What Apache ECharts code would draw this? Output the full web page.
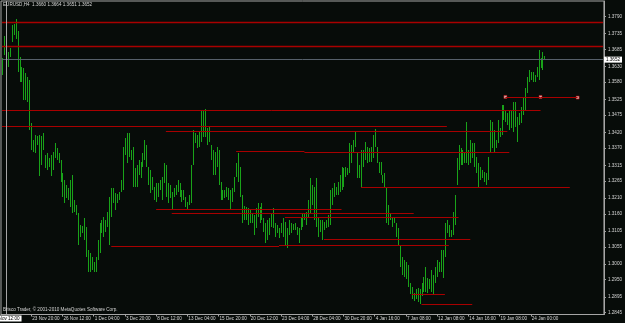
<!DOCTYPE html>
<html><head><meta charset="utf-8">
<script src="https://cdn.jsdelivr.net/npm/echarts@6/dist/echarts.min.js"></script>
<style>html,body{margin:0;padding:0;background:#070c09;overflow:hidden}#c{width:625px;height:323px}</style>
</head><body><div id="c"></div>
<script>
// ---- data ----
const symbolName = 'EURUSD,H4';
const lastBarOHLC = [1.3660, 1.3664, 1.3651, 1.3652];
const copyrightText = 'Brisco Trader, \u00a9 2001-2010 MetaQuotes Software Corp.';
const timeSlots = 309;

const barHigh = [1.3657,
1.3727,1.3714,1.3676,1.3688,1.3761,1.3765,1.3781,1.3742,1.3660,1.3628,
1.3625,1.3609,1.3596,1.3587,1.3450,1.3396,1.3412,1.3409,1.3412,1.3409,
1.3418,1.3348,1.3354,1.3339,1.3348,1.3358,1.3386,1.3370,1.3354,1.3332,
1.3291,1.3269,1.3253,1.3243,1.3269,1.3285,1.3205,1.3189,1.3164,1.3126,
1.3122,1.3148,1.3119,1.3046,1.3036,1.3021,1.3008,1.3024,1.3078,1.3132,
1.3141,1.3151,1.3141,1.3167,1.3215,1.3243,1.3243,1.3227,1.3224,1.3230,
1.3269,1.3374,1.3402,1.3418,1.3418,1.3364,1.3374,1.3307,1.3316,1.3332,
1.3326,1.3354,1.3396,1.3380,1.3310,1.3300,1.3278,1.3246,1.3259,1.3259,
1.3269,1.3278,1.3323,1.3316,1.3259,1.3253,1.3230,1.3243,1.3253,1.3269,
1.3259,1.3237,1.3237,1.3215,1.3199,1.3221,1.3316,1.3428,1.3418,1.3412,
1.3421,1.3491,1.3491,1.3494,1.3434,1.3437,1.3380,1.3364,1.3358,1.3374,
1.3364,1.3262,1.3237,1.3237,1.3246,1.3243,1.3237,1.3243,1.3278,1.3323,
1.3354,1.3310,1.3221,1.3186,1.3183,1.3180,1.3173,1.3164,1.3157,1.3180,
1.3196,1.3183,1.3196,1.3148,1.3132,1.3141,1.3148,1.3164,1.3180,1.3132,
1.3126,1.3116,1.3132,1.3148,1.3135,1.3116,1.3141,1.3132,1.3129,1.3132,
1.3119,1.3116,1.3148,1.3164,1.3164,1.3167,1.3205,1.3275,1.3253,1.3246,
1.3275,1.3148,1.3141,1.3141,1.3135,1.3141,1.3157,1.3237,1.3243,1.3259,
1.3246,1.3262,1.3285,1.3310,1.3307,1.3310,1.3307,1.3386,1.3380,1.3396,
1.3421,1.3358,1.3316,1.3364,1.3364,1.3390,1.3374,1.3370,1.3374,1.3412,
1.3431,1.3374,1.3326,1.3326,1.3285,1.3291,1.3243,1.3189,1.3164,1.3148,
1.3151,1.3132,1.3116,1.3062,1.3021,1.3014,1.3008,1.2998,1.2941,1.2928,
1.2909,1.2919,1.2925,1.2919,1.2941,1.2960,1.2989,1.2957,1.2951,1.2982,
1.2966,1.2989,1.3014,1.3008,1.3046,1.3046,1.3132,1.3141,1.3126,1.3110,
1.3167,1.3221,1.3339,1.3380,1.3370,1.3364,1.3358,1.3453,1.3364,1.3396,
1.3386,1.3386,1.3342,1.3323,1.3310,1.3300,1.3294,1.3291,1.3342,1.3459,
1.3453,1.3428,1.3396,1.3459,1.3434,1.3507,1.3507,1.3491,1.3482,1.3491,
1.3491,1.3517,1.3517,1.3469,1.3482,1.3501,1.3533,1.3561,1.3596,1.3618,
1.3612,1.3612,1.3602,1.3628,1.3682,1.3657,1.3676,1.3664];

const barLow = [1.3602,
1.3666,1.3657,1.3628,1.3660,1.3707,1.3730,1.3717,1.3612,1.3580,1.3580,
1.3523,1.3523,1.3517,1.3428,1.3364,1.3358,1.3354,1.3380,1.3281,1.3316,
1.3364,1.3307,1.3300,1.3310,1.3281,1.3300,1.3339,1.3332,1.3323,1.3262,
1.3215,1.3196,1.3211,1.3205,1.3183,1.3164,1.3167,1.3157,1.3062,1.3087,
1.3100,1.3078,1.3024,1.2976,1.2973,1.2982,1.2976,1.2973,1.3014,1.3036,
1.3100,1.3087,1.3103,1.3119,1.3062,1.3151,1.3196,1.3173,1.3196,1.3205,
1.3230,1.3237,1.3348,1.3323,1.3342,1.3332,1.3246,1.3246,1.3246,1.3285,
1.3275,1.3310,1.3332,1.3310,1.3253,1.3227,1.3237,1.3205,1.3199,1.3215,
1.3237,1.3205,1.3259,1.3215,1.3196,1.3211,1.3173,1.3215,1.3221,1.3230,
1.3215,1.3199,1.3205,1.3183,1.3173,1.3189,1.3196,1.3316,1.3386,1.3370,
1.3374,1.3390,1.3405,1.3405,1.3380,1.3390,1.3332,1.3285,1.3285,1.3310,
1.3253,1.3205,1.3205,1.3211,1.3215,1.3205,1.3173,1.3199,1.3230,1.3278,
1.3262,1.3215,1.3132,1.3141,1.3141,1.3126,1.3132,1.3132,1.3094,1.3116,
1.3151,1.3132,1.3141,1.3103,1.3068,1.3078,1.3094,1.3119,1.3116,1.3087,
1.3100,1.3084,1.3100,1.3087,1.3056,1.3052,1.3094,1.3100,1.3110,1.3110,
1.3094,1.3068,1.3110,1.3119,1.3141,1.3126,1.3151,1.3164,1.3189,1.3141,
1.3119,1.3087,1.3103,1.3078,1.3110,1.3116,1.3119,1.3126,1.3189,1.3215,
1.3221,1.3221,1.3230,1.3237,1.3246,1.3278,1.3285,1.3291,1.3323,1.3354,
1.3374,1.3275,1.3275,1.3246,1.3310,1.3332,1.3323,1.3326,1.3326,1.3339,
1.3374,1.3323,1.3291,1.3285,1.3259,1.3246,1.3132,1.3126,1.3141,1.3119,
1.3132,1.3087,1.3056,1.2989,1.2966,1.2960,1.2951,1.2928,1.2903,1.2887,
1.2881,1.2887,1.2878,1.2871,1.2897,1.2912,1.2912,1.2909,1.2919,1.2912,
1.2903,1.2941,1.2960,1.2976,1.2976,1.2957,1.3024,1.3100,1.3087,1.3087,
1.3094,1.3126,1.3253,1.3300,1.3316,1.3316,1.3323,1.3323,1.3316,1.3323,
1.3339,1.3310,1.3291,1.3243,1.3269,1.3275,1.3262,1.3253,1.3269,1.3354,
1.3370,1.3354,1.3370,1.3386,1.3405,1.3412,1.3459,1.3453,1.3443,1.3428,
1.3434,1.3421,1.3437,1.3390,1.3443,1.3450,1.3475,1.3491,1.3545,1.3580,
1.3587,1.3580,1.3580,1.3596,1.3587,1.3625,1.3618,1.3651];

const xTickSlots = [15,31,47,63,79,95,111,127,143,159,175,191,207,223,239,255,271];
const xTickLabels = ['23 Nov 20:00','26 Nov 12:00','1 Dec 04:00','3 Dec 20:00','8 Dec 12:00',
  '13 Dec 04:00','15 Dec 20:00','20 Dec 12:00','23 Dec 04:00','28 Dec 04:00','30 Dec 20:00',
  '4 Jan 16:00','7 Jan 08:00','12 Jan 08:00','14 Jan 16:00','19 Jan 08:00','24 Jan 00:00'];
const yTickValues = [1.3790,1.3735,1.3685,1.3630,1.3580,1.3525,1.3475,1.3420,1.3370,1.3315,
  1.3265,1.3210,1.3160,1.3105,1.3055,1.3000,1.2950,1.2895,1.2845];
const yMin = 1.2839, yMax = 1.3839;
const bidPrice = 1.3652;
const fullWidthLevels = [1.3771, 1.3695];
// [startSlot, endSlot, price]
const trendSegments = [
  [0,276,1.3491],[0,228,1.3440],[84,259,1.3424],[120,155,1.3360],[155,260,1.3357],
  [184,291,1.3246],[79,174,1.3176],[87,211,1.3163],[145,234,1.3150],[165,240,1.3080],
  [56,142,1.3058],[142,229,1.3061],[210,227,1.2905],[215,241,1.2873],
  [258,276,1.3533],[276,295,1.3531]];
const anchorPoints = [[258,1.3533],[276,1.3533],[295,1.3531]];
const vLineSlot = 2;
const vLineLabel = '20 Nov 12:00';

// ---- chart ----
const TXT = '#d6d6d6', FRAME = '#a6a6a6', BAR = '#19a319', RED = '#a80000';
const FONT = 'Liberation Sans';
const lastSlot = timeSlots - 1;
const cats = [];
for (let i = 0; i < timeSlots; i++) cats.push('s' + i);
const tickMap = {};
xTickSlots.forEach((s, k) => { tickMap[s] = xTickLabels[k]; });

const chart = echarts.init(document.getElementById('c'), null, {renderer: 'canvas'});

const noLabel = {show: false};
const markData = [];
fullWidthLevels.forEach(p => markData.push([
  {coord: [0, p], lineStyle: {color: RED, width: 1.3, type: 'solid'}, label: noLabel},
  {coord: [lastSlot, p]}]));
trendSegments.forEach(s => markData.push([
  {coord: [s[0], s[2]], lineStyle: {color: RED, width: 1, type: 'solid'}, label: noLabel},
  {coord: [s[1], s[2]]}]));
markData.push([
  {coord: [0, bidPrice], lineStyle: {color: '#56606a', width: 1, type: 'solid'},
    label: {show: true, position: 'end', distance: 1, formatter: bidPrice.toFixed(4),
      backgroundColor: '#ffffff', color: '#000', fontSize: 4.6, fontFamily: FONT, padding: [1, 2, 0, 2]}},
  {coord: [lastSlot, bidPrice]}]);
markData.push([
  {coord: [vLineSlot, yMin], lineStyle: {color: FRAME, width: 1, type: 'solid'},
    label: {show: true, position: 'start', distance: 1, formatter: vLineLabel,
      backgroundColor: '#ffffff', color: '#000', fontSize: 4.6, fontFamily: FONT, padding: [1, 2, 0, 2]}},
  {coord: [vLineSlot, yMax]}]);

chart.setOption({
  animation: false,
  backgroundColor: '#070c09',
  title: [
    {text: symbolName + '  ' + lastBarOHLC.map(v => v.toFixed(4)).join(' '), left: 3, top: 2, padding: 0,
      textStyle: {color: TXT, fontSize: 4.6, fontWeight: 'normal', fontFamily: FONT}},
    {text: copyrightText, left: 3, top: 307, padding: 0,
      textStyle: {color: TXT, fontSize: 4.6, fontWeight: 'normal', fontFamily: FONT}}
  ],
  grid: {left: 1, right: 18, top: 1, bottom: 8.5, show: true, borderColor: FRAME, borderWidth: 1, backgroundColor: 'transparent'},
  xAxis: {
    type: 'category', data: cats, boundaryGap: true,
    axisLine: {show: true, lineStyle: {color: FRAME, width: 1}},
    axisTick: {show: true, alignWithLabel: true, length: 2, interval: (i) => tickMap[i] !== undefined, lineStyle: {color: FRAME}},
    axisLabel: {show: true, interval: (i) => tickMap[i] !== undefined, formatter: (v, i) => tickMap[i] || '',
      color: TXT, fontSize: 4.6, fontFamily: FONT, align: 'left', margin: 2, padding: [0, 0, 0, 1]},
    splitLine: {show: false}
  },
  yAxis: {
    type: 'value', position: 'right', min: yMin, max: yMax, scale: true,
    axisLine: {show: true, lineStyle: {color: FRAME, width: 1}},
    axisTick: {show: true, length: 2, customValues: yTickValues, lineStyle: {color: FRAME}},
    axisLabel: {show: true, customValues: yTickValues, formatter: v => v.toFixed(4), color: TXT,
      fontSize: 4.6, fontFamily: FONT, margin: 4},
    splitLine: {show: false}
  },
  series: [
    {
      type: 'custom',
      data: barHigh.map((h, i) => [i, h, barLow[i]]),
      encode: {x: 0, y: [1, 2]},
      clip: true,
      renderItem: function (params, api) {
        const i = api.value(0);
        const a = api.coord([i, api.value(1)]);
        const b = api.coord([i, api.value(2)]);
        const x = Math.round(a[0]) + 0.5;
        return {type: 'line', shape: {x1: x, y1: Math.round(a[1]), x2: x, y2: Math.max(Math.round(b[1]), Math.round(a[1]) + 1)},
          style: {stroke: BAR, lineWidth: 1}};
      },
      markLine: {silent: true, symbol: ['none', 'none'], animation: false, data: markData}
    },
    {
      type: 'scatter', data: anchorPoints, symbol: 'rect', symbolSize: 3, silent: true,
      itemStyle: {color: '#ffd6d6', borderColor: '#d00000', borderWidth: 0.6}
    }
  ]
});
</script></body></html>
